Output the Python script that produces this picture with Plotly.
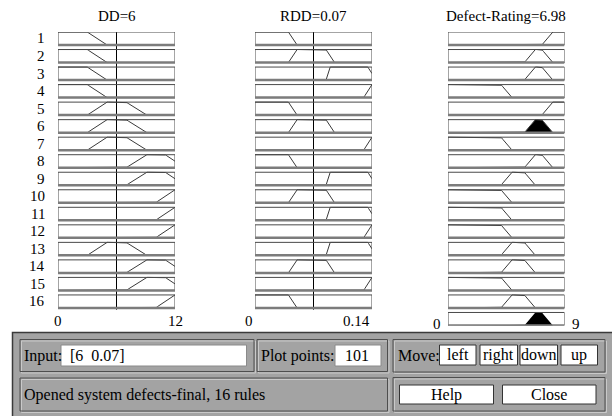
import numpy as np
import plotly.graph_objects as go

# Universes of discourse
DD_RANGE = [0, 12]
RDD_RANGE = [0, 0.14]
RATING_RANGE = [0, 9]

# Trapezoidal membership functions [a, b, c, d]
DD_LOW = [0, 0, 3, 5]
DD_MEDIUM = [3, 5, 7, 9]
DD_HIGH = [7, 9, 11, 13]
DD_VERY_HIGH = [10, 12, 12, 12]

RDD_LOW = [0, 0, 0.04, 0.05]
RDD_MEDIUM = [0.04, 0.05, 0.085, 0.095]
RDD_HIGH = [0.085, 0.09, 0.135, 0.145]
RDD_VERY_HIGH = [0.13, 0.14, 0.14, 0.14]

RATING_LOW = [0, 0, 4.1, 4.9]
RATING_MEDIUM = [4.1, 4.9, 5.9, 6.75]
RATING_HIGH = [5.9, 6.75, 7.25, 8.1]
RATING_VERY_HIGH = [7.25, 8.1, 9, 9]

# Rule base (16 rules)
RULE_DD = ["low", "low", "low", "low", "medium", "medium", "medium", "high",
           "high", "very high", "very high", "very high", "medium", "high",
           "high", "very high"]
RULE_RDD = ["low", "medium", "high", "very high", "low", "medium", "very high",
            "low", "high", "medium", "high", "very high", "high", "medium",
            "very high", "low"]
RULE_RATING = ["very high", "high", "high", "low", "very high", "high", "low",
               "high", "medium", "low", "low", "low", "medium", "medium",
               "low", "medium"]

INPUT_DD = 6
INPUT_RDD = 0.07
OUTPUT_RATING = 6.98
PLOT_POINTS = 101

DD_SETS = {"low": DD_LOW, "medium": DD_MEDIUM, "high": DD_HIGH, "very high": DD_VERY_HIGH}
RDD_SETS = {"low": RDD_LOW, "medium": RDD_MEDIUM, "high": RDD_HIGH, "very high": RDD_VERY_HIGH}
RATING_SETS = {"low": RATING_LOW, "medium": RATING_MEDIUM, "high": RATING_HIGH,
               "very high": RATING_VERY_HIGH}


def trapmf(x, p):
    a, b, c, d = p
    x = np.asarray(x, dtype=float)
    up = (x >= a).astype(float) if b == a else np.clip((x - a) / (b - a), 0, 1)
    down = (x <= d).astype(float) if c == d else np.clip((d - x) / (d - c), 0, 1)
    return np.minimum(up, down)


def sample_x(rng, p):
    lo, hi = rng
    pts = list(np.linspace(lo, hi, PLOT_POINTS)) + [v for v in p if lo <= v <= hi]
    return np.unique(np.array(pts))


W, H = 612, 416
SERIF = "Liberation Serif, Times New Roman, serif"


def px(x):
    return x / W


def py(y):
    return 1 - y / H


# Row geometry (pixel pitch of the rule rows)
ROW_PITCH = 17.53
BOX_PX = 13
TOP_PX = 32
BOXH = BOX_PX / ROW_PITCH
Y_RANGE = [-(16 + BOXH), 0]
Y_DOMAIN = [py(TOP_PX + 16 * ROW_PITCH + BOX_PX), py(TOP_PX)]

COLUMNS = [
    (DD_RANGE, DD_SETS, RULE_DD, (58, 175)),
    (RDD_RANGE, RDD_SETS, RULE_RDD, (255, 372)),
    (RATING_RANGE, RATING_SETS, RULE_RATING, (448, 564.5)),
]


def row_y(k, mu):
    return -k - BOXH + np.asarray(mu) * BOXH


fig = go.Figure()
shapes = []
annotations = []

# Firing strength of each rule
weights = [min(float(trapmf(INPUT_DD, DD_SETS[d])), float(trapmf(INPUT_RDD, RDD_SETS[r])))
           for d, r in zip(RULE_DD, RULE_RDD)]

LINE_COLOR = "#3a3a3a"

for ci, (rng, sets, rule_col, (xl, xr)) in enumerate(COLUMNS):
    ax = "" if ci == 0 else str(ci + 1)
    xref, yref = "x" + ax, "y" + ax
    n_rows = 17 if ci == 2 else 16

    for k in range(n_rows):
        if k < 16:
            p = sets[rule_col[k]]
            xs = sample_x(rng, p)
            mu = trapmf(xs, p)
            if ci == 2 and weights[k] > 0:
                clipped = np.minimum(mu, weights[k])
                fig.add_trace(go.Scatter(
                    x=np.concatenate([xs, xs[::-1]]),
                    y=np.concatenate([row_y(k, clipped), row_y(k, np.zeros_like(xs))]),
                    fill="toself", fillcolor="black", mode="lines",
                    line=dict(width=0, color="black"), xaxis=xref, yaxis=yref,
                    hoverinfo="skip", showlegend=False))
            fig.add_trace(go.Scatter(
                x=xs, y=row_y(k, mu), mode="lines",
                line=dict(color=LINE_COLOR, width=1), xaxis=xref, yaxis=yref,
                hoverinfo="skip", showlegend=False))
        else:
            # Aggregated output of all rules
            grid = np.linspace(rng[0], rng[1], PLOT_POINTS)
            agg = np.zeros_like(grid)
            for j, lab in enumerate(rule_col):
                agg = np.maximum(agg, np.minimum(trapmf(grid, sets[lab]), weights[j]))
            fig.add_trace(go.Scatter(
                x=np.concatenate([grid, grid[::-1]]),
                y=np.concatenate([row_y(k, agg), row_y(k, np.zeros_like(grid))]),
                fill="toself", fillcolor="black", mode="lines",
                line=dict(width=0, color="black"), xaxis=xref, yaxis=yref,
                hoverinfo="skip", showlegend=False))

        # Row frame
        shapes.append(dict(type="rect", xref=xref, yref=yref, x0=rng[0], x1=rng[1],
                           y0=-k - BOXH, y1=-k, line=dict(color="#4a4a4a", width=1),
                           fillcolor="rgba(0,0,0,0)", layer="above"))
        shapes.append(dict(type="line", xref=xref, yref=yref, x0=rng[0], x1=rng[1],
                           y0=-k - BOXH, y1=-k - BOXH,
                           line=dict(color="#7c7c7c", width=2.5), layer="above"))

    # Current input value
    if ci < 2:
        val = INPUT_DD if ci == 0 else INPUT_RDD
        fig.add_trace(go.Scatter(x=[val, val], y=[0, -(15 + BOXH) - 0.1], mode="lines",
                                 line=dict(color="black", width=1), xaxis=xref, yaxis=yref,
                                 hoverinfo="skip", showlegend=False))

    fig.layout["xaxis" + ax] = dict(domain=[px(xl), px(xr)], range=rng, visible=False,
                                    anchor=yref, fixedrange=True)
    fig.layout["yaxis" + ax] = dict(domain=Y_DOMAIN, range=Y_RANGE, visible=False,
                                    anchor=xref, fixedrange=True)

# Column titles
TITLES = [f"DD={INPUT_DD:g}", f"RDD={INPUT_RDD:g}", f"Defect-Rating={OUTPUT_RATING:g}"]
for (rng, sets, rule_col, (xl, xr)), t in zip(COLUMNS, TITLES):
    annotations.append(dict(text=t, x=px((xl + xr) / 2), y=py(16), xref="paper", yref="paper",
                            showarrow=False, xanchor="center", yanchor="middle",
                            font=dict(family=SERIF, size=15, color="black")))

# Rule numbers
for k in range(16):
    annotations.append(dict(text=str(k + 1), x=px(47), y=-k - BOXH / 2, xref="paper", yref="y",
                            showarrow=False, xanchor="right", yanchor="middle",
                            font=dict(family=SERIF, size=15, color="black")))


# Range labels
def range_label(text, x, xref, ypx, anchor="center"):
    annotations.append(dict(text=text, x=x, y=py(ypx), xref=xref, yref="paper",
                            showarrow=False, xanchor=anchor, yanchor="middle",
                            font=dict(family=SERIF, size=15, color="black")))


range_label(f"{DD_RANGE[0]:g}", DD_RANGE[0], "x", 321)
range_label(f"{DD_RANGE[1]:g}", DD_RANGE[1], "x", 321)
range_label(f"{RDD_RANGE[0]:g}", RDD_RANGE[0], "x2", 321, "right")
range_label(f"{RDD_RANGE[1]:g}", RDD_RANGE[1], "x2", 321, "right")
range_label(f"{RATING_RANGE[0]:g}", px(443), "paper", 324, "right")
range_label(f"{RATING_RANGE[1]:g}", px(570), "paper", 324, "left")

# Control panel
PANEL = "#a3a3a3"


def prect(x0, y0, x1, y1, fill=None, line="#404040", lw=1):
    shapes.append(dict(type="rect", xref="paper", yref="paper", x0=px(x0), x1=px(x1),
                       y0=py(y1), y1=py(y0), fillcolor=fill or "rgba(0,0,0,0)",
                       line=dict(color=line, width=lw), layer="above"))


def frame(x0, y0, x1, y1):
    prect(x0 + 1.5, y0 + 1.5, x1 + 1.5, y1 + 1.5, line="#c9c9c9", lw=1)
    prect(x0, y0, x1, y1, line="#4e4e4e", lw=1)


def label(text, x, y, size=16, anchor="left"):
    annotations.append(dict(text=text, x=px(x), y=py(y), xref="paper", yref="paper",
                            showarrow=False, xanchor=anchor, yanchor="middle",
                            font=dict(family=SERIF, size=size, color="black")))


prect(12.5, 332.5, 616, 420, fill=PANEL, line="#3a3a3a", lw=1.5)
frame(20, 339.5, 254, 371.5)
frame(257, 339.5, 387.5, 371.5)
frame(393, 339.5, 605, 372)
frame(20, 378, 387.5, 411)
frame(393, 377.5, 605, 411)

label("Input:", 22, 356)
prect(61, 345, 246.5, 366, fill="white", line="#8a8a8a")
label(f"[{INPUT_DD:g}  {INPUT_RDD:g}]", 68, 355.5)

label("Plot points:", 259, 356)
prect(335, 345, 381, 366, fill="white", line="#8a8a8a")
label(str(PLOT_POINTS), 357, 355.5, anchor="center")

label("Move:", 395.5, 355)
for txt, x0, x1 in [("left", 439.5, 476), ("right", 480, 517.5),
                    ("down", 520, 557.5), ("up", 561, 597.5)]:
    prect(x0, 345, x1, 365, fill="white", line="#333333")
    label(txt, (x0 + x1) / 2, 354.5, anchor="center")

label("Opened system defects-final, 16 rules", 22, 395)

for txt, x0, x1 in [("Help", 399.5, 493.5), ("Close", 502.5, 596)]:
    prect(x0, 385, x1, 404, fill="white", line="#333333")
    label(txt, (x0 + x1) / 2, 394.5, anchor="center")

fig.update_layout(width=W, height=H, margin=dict(l=0, r=0, t=0, b=0),
                  paper_bgcolor="white", plot_bgcolor="rgba(0,0,0,0)",
                  shapes=shapes, annotations=annotations, showlegend=False)

fig.write_html("out.html")
